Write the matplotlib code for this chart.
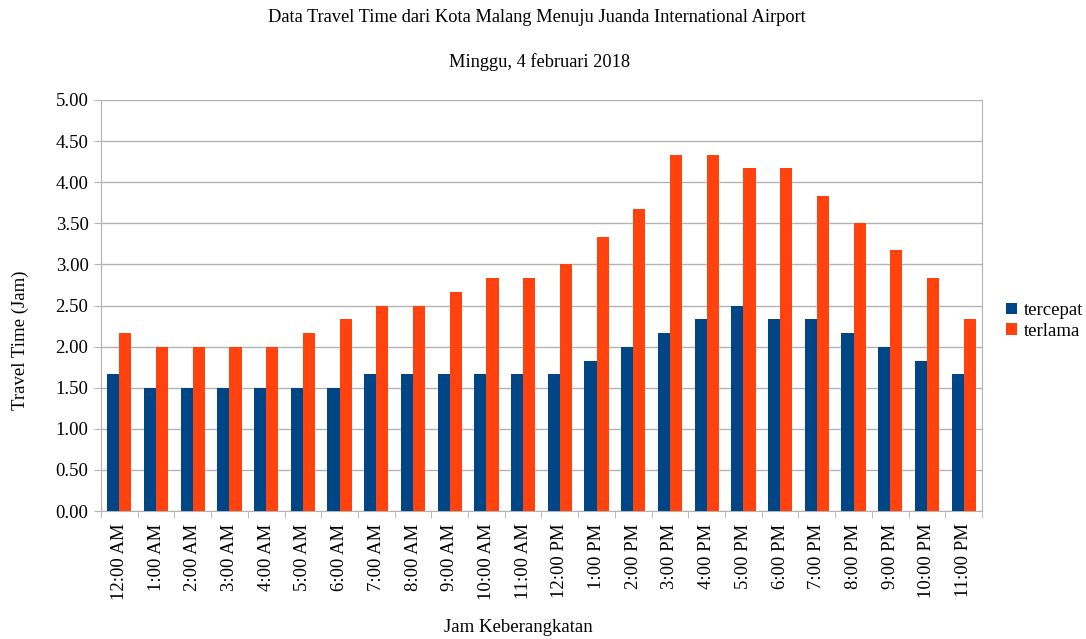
import matplotlib
matplotlib.use("Agg")
import matplotlib.pyplot as plt
import numpy as np

categories = ["12:00 AM", "1:00 AM", "2:00 AM", "3:00 AM", "4:00 AM", "5:00 AM",
              "6:00 AM", "7:00 AM", "8:00 AM", "9:00 AM", "10:00 AM", "11:00 AM",
              "12:00 PM", "1:00 PM", "2:00 PM", "3:00 PM", "4:00 PM", "5:00 PM",
              "6:00 PM", "7:00 PM", "8:00 PM", "9:00 PM", "10:00 PM", "11:00 PM"]
tercepat = [1.67, 1.50, 1.50, 1.50, 1.50, 1.50, 1.50, 1.67, 1.67, 1.67, 1.67, 1.67,
            1.67, 1.83, 2.00, 2.17, 2.33, 2.50, 2.33, 2.33, 2.17, 2.00, 1.83, 1.67]
terlama = [2.17, 2.00, 2.00, 2.00, 2.00, 2.17, 2.33, 2.50, 2.50, 2.67, 2.83, 2.83,
           3.00, 3.33, 3.67, 4.33, 4.33, 4.17, 4.17, 3.83, 3.50, 3.17, 2.83, 2.33]

plt.rcParams['font.family'] = ['Liberation Serif', 'DejaVu Serif']

fig = plt.figure(figsize=(10.86, 6.39), dpi=100)
ax = fig.add_axes([101/1086, 1 - 511/639, (982-101)/1086, (511-100)/639])

x = np.arange(len(categories))
w = 0.33
ax.bar(x - w/2, tercepat, w, color='#004586', label='tercepat', zorder=3)
ax.bar(x + w/2, terlama, w, color='#ff420e', label='terlama', zorder=3)

ax.set_xlim(-0.5, len(categories) - 0.5)
ax.set_ylim(0, 5)
yt = np.arange(0, 5.01, 0.5)
ax.set_yticks(yt)
ax.set_yticklabels([f"{v:.2f}" for v in yt], fontsize=13.5)
ax.yaxis.grid(True, color='#b3b3b3', linewidth=1, zorder=0)

ax.set_xticks(x)
ax.set_xticklabels(categories, rotation=90, fontsize=13.5)
ax.tick_params(axis='x', length=0, pad=9)
ax.set_xticks(np.arange(-0.5, len(categories), 1), minor=True)
ax.tick_params(axis='x', which='minor', length=5, color='#b3b3b3')
ax.tick_params(axis='y', length=5, color='#b3b3b3', pad=4)

for s in ['left', 'right', 'bottom', 'top']:
    ax.spines[s].set_color('#b3b3b3')
ax.spines['top'].set_visible(False)

fig.text(20/1086, 1 - 340/639, 'Travel Time (Jam)', rotation=90, ha='center', va='center', fontsize=13.5)
fig.text(518/1086, 1 - 628/639, 'Jam Keberangkatan', ha='center', va='center', fontsize=13.5)

fig.text(537/1086, 1 - 18/639, 'Data Travel Time dari Kota Malang Menuju Juanda International Airport',
         ha='center', va='center', fontsize=13.2)
fig.text(540/1086, 1 - 62/639, 'Minggu, 4 februari 2018', ha='center', va='center', fontsize=13.2)

leg = fig.legend(loc='center left', bbox_to_anchor=(1006/1086, 1 - 321/639), frameon=False,
                 fontsize=13.5, handlelength=0.6, handleheight=0.6, handletextpad=0.35,
                 borderpad=0, borderaxespad=0, labelspacing=0.2)

fig.savefig('out.png', dpi=100)
